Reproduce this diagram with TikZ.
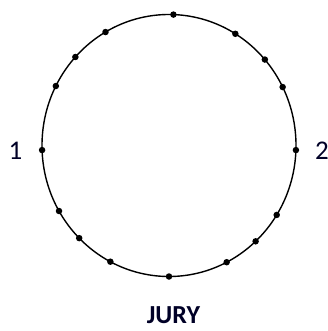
\documentclass[tikz,border=0pt]{standalone}
\usepackage{fontspec}
\setmainfont{Carlito}
\usetikzlibrary{calc}
\begin{document}
\begin{tikzpicture}[x=1pt,y=-1pt,
  ring/.style={draw=black,line width=1.4pt},
  jdot/.style={circle,fill=black,inner sep=0pt,minimum size=6.5pt},
  lbl/.style={inner sep=0pt,anchor=base,font=\fontsize{27}{30}\selectfont,text=black!85!blue}]
\useasboundingbox (0,0) rectangle (328,331);
\coordinate (c) at (169,145.5);
\draw[ring] (c) ellipse [x radius=127, y radius=131];
\foreach \a [count=\i] in {88,58.5,41,26.5,358,328,313,297,270,242.5,225,210,182,153,137.5,120}{
  \node[jdot] (d\i) at ($(c)+({127*cos(\a)},{-131*sin(\a)})$) {};
}
\node[lbl] (one) at (15.5,159) {1};
\node[lbl] (two) at (322,159) {2};
\node[lbl,font=\fontsize{26}{30}\selectfont\bfseries] (jury) at (173.5,323) {JURY};
\end{tikzpicture}
\end{document}
